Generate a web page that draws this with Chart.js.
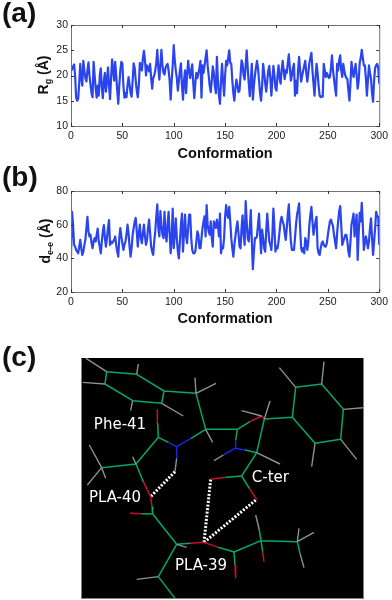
<!DOCTYPE html>
<html>
<head>
<meta charset="utf-8">
<script src="https://cdn.jsdelivr.net/npm/chart.js@4/dist/chart.umd.min.js"></script>
<style>
	html,body {margin:0; padding:0; background:#ffffff; overflow:hidden;}
	canvas {position:absolute; left:0;}
	.panelTag {position:absolute; left:2px; font:bold 28px "Liberation Sans"; color:#111111; line-height:32px;}
</style>
</head>
<body>
<canvas id="chartA" width="392" height="165" style="top:0px"></canvas>
<canvas id="chartB" width="392" height="165" style="top:165px"></canvas>
<canvas id="chartC" width="392" height="242" style="top:358px"></canvas>
<div class="panelTag" style="top:-3px">(a)</div>
<div class="panelTag" style="top:161px">(b)</div>
<div class="panelTag" style="top:341px">(c)</div>
<script>
/* =========================== DATA =========================== */
var xTickValues = [0,50,100,150,200,250,300];
var rgTickValues = [10,15,20,25,30];
var deeTickValues = [20,40,60,80];
var xAxisTitle = "Conformation";

var rgValues = [
	21,21.2,21.8,22.2,20,15.6,15,15.4,18.5,22.3,
	19.5,18,22.9,21,19.5,18.8,21,22.6,20,18.2,
	16.5,15.7,22.7,20,17.5,15.6,18,16,20,21.4,
	17.5,15.5,19,20.5,16.8,19,21.6,18,15.3,19.5,
	23.2,21,19,22.7,20,17,14.4,18,21,22.7,
	22.4,18,15.6,16.5,15.7,18,19.7,18.2,16.5,15.8,
	19,22.4,21.5,19,17,15.7,18,22.5,22,21,
	23.5,24.9,23,20,22,21.5,20.8,22.3,19.5,17.4,
	19.5,20,21,22.5,25.1,21.5,19.2,22,25.1,22,
	20.5,20.2,21.5,22,22.3,21,19,15.2,19,22,
	26,23,21,19.5,17,19,21,22.4,18,15.2,
	19,21,16.5,20,22.9,21,19.5,21,22.2,18.5,
	15.5,18.5,20.5,19.5,20.5,21.5,22.9,15.6,22,20.5,
	22,23.5,25,22,20,18,16.7,19,21.8,20.5,
	18,16.5,23.7,19,16,14.4,19,22.3,19,16,
	20,22.9,22,23.5,25,22.5,22.3,19,16.5,15,
	17.5,19.2,18,16.7,17,20,23,22.3,20,19.2,
	22,25,21.5,18.5,15.9,19,22.3,15.2,18,20,
	21.5,22.9,21.5,19,16.5,15,18,22.3,20.5,18.5,
	16.8,19,21,21.9,19.5,16,19,21.9,20,17.5,
	17,20,22,19.5,18.4,21,22.9,21,19.3,21,
	20.5,22.5,24.2,21.5,19,20,21.5,22.3,16,19,
	16.5,21,23.7,21,18.8,20,21,22,22.9,20.5,
	18.8,20.5,22.5,23.5,24.5,21,18.5,16,19.5,22.3,
	20.5,18,16,15.7,15.9,15.8,22.3,21,19.7,20.5,
	20,19.5,19.7,21.5,24,21,19.3,17.5,16,22.3,
	21,23,24,21,19.7,22.3,21,20,19.5,19.3,
	17,15,18.5,22.7,21,19.7,21,22.3,20,17.4,
	19,22.5,23.5,25.1,23.5,22,22,19.5,16,19,
	22,20.5,19.3,16.5,14.8,19,21.5,22,22.3,21.5,
	18.4
];

var deeValues = [
	41.7,67.6,60,48,47,45,44,43,47,51,
	46,42,44,48,51,58,64.7,56,53,54,
	49,46,50,52,50,54,57.7,50,47,43,
	50,56,59.7,52,47,52,58,62.7,48,50,
	49,50,51,53,48,44,41,52,58,53,
	49,45,48,50,54,60,55,47,41,46,
	54,58,62,64,56,47,55,60,52,49,
	55,60,53,48,51,58,63,55,47,44,
	42,50,56,65,72,58,53,68,60,54,
	52,67.6,55,50,60,67.6,55,43,52,69.6,
	46,54,63.7,52,44,40,50,60,66.6,44,
	55,66,53,49,58,66,66,52,45,43,
	43,44,50,56,54,46,46,52,58,62,
	65,53,71.6,60,56,54,62,52,47,62,
	60,58,63,60,53,66.6,43,47,46,52,
	65,71.6,66,64,70.6,62,52,46,41,48,
	53,58,62,55,47,46,58,65.6,54,48,
	74,62,52,50,58,68.6,50,33.6,44,52,
	52,53,60,66.6,54,43,57,52,46,44,
	56,66.6,58,50,48,45,54,69.6,58,44,
	47,46,50,56,62,64.7,62,60,55,51,
	58,66,72,60,50,45,45,45,52,60,
	66,69,72.6,58,46,44,46,43,52,50,
	45,50,60,66,70.6,62,54,58,62,64.7,
	46,43,42,46,49,50,48,47,47,49,
	54,58,62,63,61,59,54,50,46,55,
	62,68,71,60,48,50,52,54,54,50,
	44,41,50,60,63,66.6,53,60,66,39,
	55,67,62,73,60,45,49,53,50,46,
	50,58,63.7,52,42,50,58,67.6,65,64.7,
	48
];

// panel (c), bonds as x1,y1,x2,y2 in the units of the hidden axes
var greenBonds = [
	[74,41,164,49],[164,49,246,99],[246,99,239,136],[239,136,152,128],[152,128,69,78],[69,78,74,41],
	[246,99,342,106],[342,106,371,214],[371,214,466,214],[371,214,327,241],[259,253,229,238],[229,238,227,196],
	[229,238,162,318],[162,318,59,329],[162,318,184,371],[210,445,212,468],[212,468,179,467],[212,468,284,559],
	[284,559,324,556],[409,568,456,582],[284,559,229,656],[229,656,279,721],[432,358,479,354],[479,354,502,391],
	[479,354,524,284],[524,284,489,276],[461,246,466,214],[466,214,504,191],[547,183,524,284],[547,183,631,178],
	[631,178,641,88],[641,88,719,78],[719,78,784,154],[784,154,776,244],[776,244,699,256],[699,256,631,178],
	[456,582,537,548],[537,548,646,551],[646,551,654,586],[537,548,532,516],[537,548,542,581],[456,582,459,621]
];
var redBonds = [
	[227,196,226,154],[184,371,206,416],[206,416,210,445],[179,467,144,466],[324,556,366,553],[366,553,409,568],
	[386,364,432,358],[502,391,524,424],[504,191,539,174],[539,174,547,183],[542,581,546,611],[459,621,461,661]
];
var blueBonds = [
	[327,241,284,266],[284,266,259,253],[284,266,284,301],[489,276,459,271],[459,271,461,246],[459,271,424,291]
];
var greyBonds = [
	[12,1,74,41],[2,73,69,78],[169,18,164,49],[152,128,146,158],[239,136,304,174],[342,106,339,59],[342,106,402,76],
	[371,214,392,253],[284,559,314,568],[229,656,164,664],[162,318,152,296],[59,329,22,261],[59,329,71,361],[59,329,16,381],
	[284,301,279,341],[424,291,396,308],[524,284,594,318],[539,174,479,158],[547,183,564,129],[641,88,592,29],
	[719,78,726,11],[784,154,844,149],[776,244,824,304],[699,256,689,326],[646,551,696,523],[646,551,651,511],
	[654,586,666,629],[532,516,521,471]
];
var hydrogenBonds = [
	[279,341,206,416],[366,553,386,364],[366,553,524,424]
];
var atomLabelNames = ["Phe-41","PLA-40","PLA-39","C-ter"];
var atomLabelX = [114,99,357,565];
var atomLabelY = [201,421,624,361];

/* =========================== PLUGINS =========================== */
// matlab style box: frame and small inward ticks on all four sides
var boxPlugin =
{
	id:'matlabBox',
	afterDatasetsDraw:function(chart)
	{
		var ctx = chart.ctx, area = chart.chartArea, tick = 3;
		ctx.save();
		ctx.strokeStyle = '#66757f';
		ctx.lineWidth = 1;
		ctx.strokeRect(area.left+0.5,area.top+0.5,area.right-area.left,area.bottom-area.top);
		ctx.strokeStyle = '#333333';
		ctx.beginPath();
		chart.scales.x.ticks.forEach(function(t)
		{
			var px = Math.round(chart.scales.x.getPixelForValue(t.value))+0.5;
			ctx.moveTo(px,area.bottom); ctx.lineTo(px,area.bottom-tick);
			ctx.moveTo(px,area.top); ctx.lineTo(px,area.top+tick);
		});
		chart.scales.y.ticks.forEach(function(t)
		{
			var py = Math.round(chart.scales.y.getPixelForValue(t.value))+0.5;
			ctx.moveTo(area.left,py); ctx.lineTo(area.left+tick,py);
			ctx.moveTo(area.right,py); ctx.lineTo(area.right-tick,py);
		});
		ctx.stroke();
		ctx.restore();
	}
};

// y title with subscript, Chart.js axis titles can not do this
function subTitlePlugin(mainText,subText,restText,centerX,centerY)
{
	return {
		id:'subTitle',
		afterDraw:function(chart)
		{
			var ctx = chart.ctx;
			var mainFont = 'bold 14px "Liberation Sans"', subFont = 'bold 9px "Liberation Sans"';
			ctx.save();
			ctx.font = mainFont;
			var w1 = ctx.measureText(mainText).width, w3 = ctx.measureText(restText).width;
			ctx.font = subFont;
			var w2 = ctx.measureText(subText).width;
			ctx.translate(centerX,centerY);
			ctx.rotate(-Math.PI/2);
			ctx.fillStyle = '#111111';
			ctx.textBaseline = 'alphabetic';
			var start = -(w1+w2+w3)/2;
			ctx.font = mainFont;
			ctx.fillText(mainText,start,5);
			ctx.font = subFont;
			ctx.fillText(subText,start+w1,8);
			ctx.font = mainFont;
			ctx.fillText(restText,start+w1+w2,5);
			ctx.restore();
		}
	};
}

/* =========================== TRACE CHARTS =========================== */
function TraceChartCreator(canvasId,series,yTicks,paddingTop,xAxisHeight,titlePlugin)
{
	var TickFont = {family:'"Liberation Sans"',size:10.5};
	return new Chart(document.getElementById(canvasId),{
		type:'line',
		data:{
			datasets:[{
				data:series.map(function(v,i){return {x:i,y:v};}),
				borderColor:'#2b45ee',
				borderWidth:2.2,
				pointRadius:0,
				tension:0,
				borderJoinStyle:'round'
			}]
		},
		options:{
			responsive:false,
			animation:false,
			events:[],
			layout:{padding:{top:paddingTop,right:11,left:0,bottom:0}},
			plugins:{legend:{display:false},tooltip:{enabled:false}},
			scales:{
				x:{
					type:'linear',min:xTickValues[0],max:xTickValues[xTickValues.length-1],
					grid:{display:false,drawTicks:false},border:{display:false},
					afterBuildTicks:function(s){s.ticks = xTickValues.map(function(v){return {value:v};});},
					afterFit:function(s){s.height = xAxisHeight;},
					ticks:{autoSkip:false,maxRotation:0,padding:4,color:'#1a1a1a',font:TickFont},
					title:{display:true,text:xAxisTitle,color:'#111111',padding:{top:0,bottom:2},font:{family:'"Liberation Sans"',size:14.5,weight:'bold'}}
				},
				y:{
					min:yTicks[0],max:yTicks[yTicks.length-1],
					grid:{display:false,drawTicks:false},border:{display:false},
					afterBuildTicks:function(s){s.ticks = yTicks.map(function(v){return {value:v};});},
					afterFit:function(s){s.width = 71;},
					ticks:{autoSkip:false,padding:3,color:'#1a1a1a',font:TickFont}
				}
			}
		},
		plugins:[boxPlugin,titlePlugin]
	});
}

TraceChartCreator('chartA',rgValues,rgTickValues,25,39,subTitlePlugin('R','g',' (Å)',43,75));
TraceChartCreator('chartB',deeValues,deeTickValues,26,38,subTitlePlugin('d','e-e',' (Å)',45,76));

/* =========================== MOLECULE PANEL =========================== */
function bondPoints(bonds)
{
	var points = [];
	bonds.forEach(function(b)
	{
		points.push({x:b[0],y:b[1]},{x:b[2],y:b[3]},{x:b[2],y:null});
	});
	return points;
}

function bondDataset(bonds,color,width,dash)
{
	return {data:bondPoints(bonds),borderColor:color,borderWidth:width,borderDash:dash||[],showLine:true,pointRadius:0,tension:0,spanGaps:false};
}

var blackBackground =
{
	id:'blackBackground',
	beforeDraw:function(chart)
	{
		var area = chart.chartArea;
		chart.ctx.save();
		chart.ctx.fillStyle = '#000000';
		chart.ctx.fillRect(area.left,area.top,area.right-area.left,area.bottom-area.top);
		chart.ctx.strokeStyle = '#808080';
		chart.ctx.strokeRect(area.left-0.5,area.top-0.5,area.right-area.left+1,area.bottom-area.top+1);
		chart.ctx.restore();
	},
	afterDraw:function(chart)
	{
		var ctx = chart.ctx;
		ctx.save();
		ctx.fillStyle = '#ffffff';
		ctx.font = '15px "DejaVu Sans"';
		ctx.textAlign = 'center';
		ctx.textBaseline = 'middle';
		atomLabelNames.forEach(function(name,i)
		{
			ctx.fillText(name,chart.scales.x.getPixelForValue(atomLabelX[i]),chart.scales.y.getPixelForValue(atomLabelY[i]));
		});
		ctx.restore();
	}
};

new Chart(document.getElementById('chartC'),{
	type:'scatter',
	data:{
		datasets:[
			bondDataset(greyBonds,'#8b9294',1.4),
			bondDataset(greenBonds,'#05a866',1.5),
			bondDataset(redBonds,'#c8102a',1.5),
			bondDataset(blueBonds,'#1428d8',1.5),
			bondDataset(hydrogenBonds,'#ffffff',3,[2,1.6])
		]
	},
	options:{
		responsive:false,
		animation:false,
		events:[],
		layout:{padding:{left:82,right:29,top:0,bottom:2}},
		plugins:{legend:{display:false},tooltip:{enabled:false}},
		scales:{
			x:{type:'linear',display:false,min:0,max:843},
			y:{type:'linear',display:false,reverse:true,min:0,max:720}
		}
	},
	plugins:[blackBackground]
});
</script>
</body>
</html>
